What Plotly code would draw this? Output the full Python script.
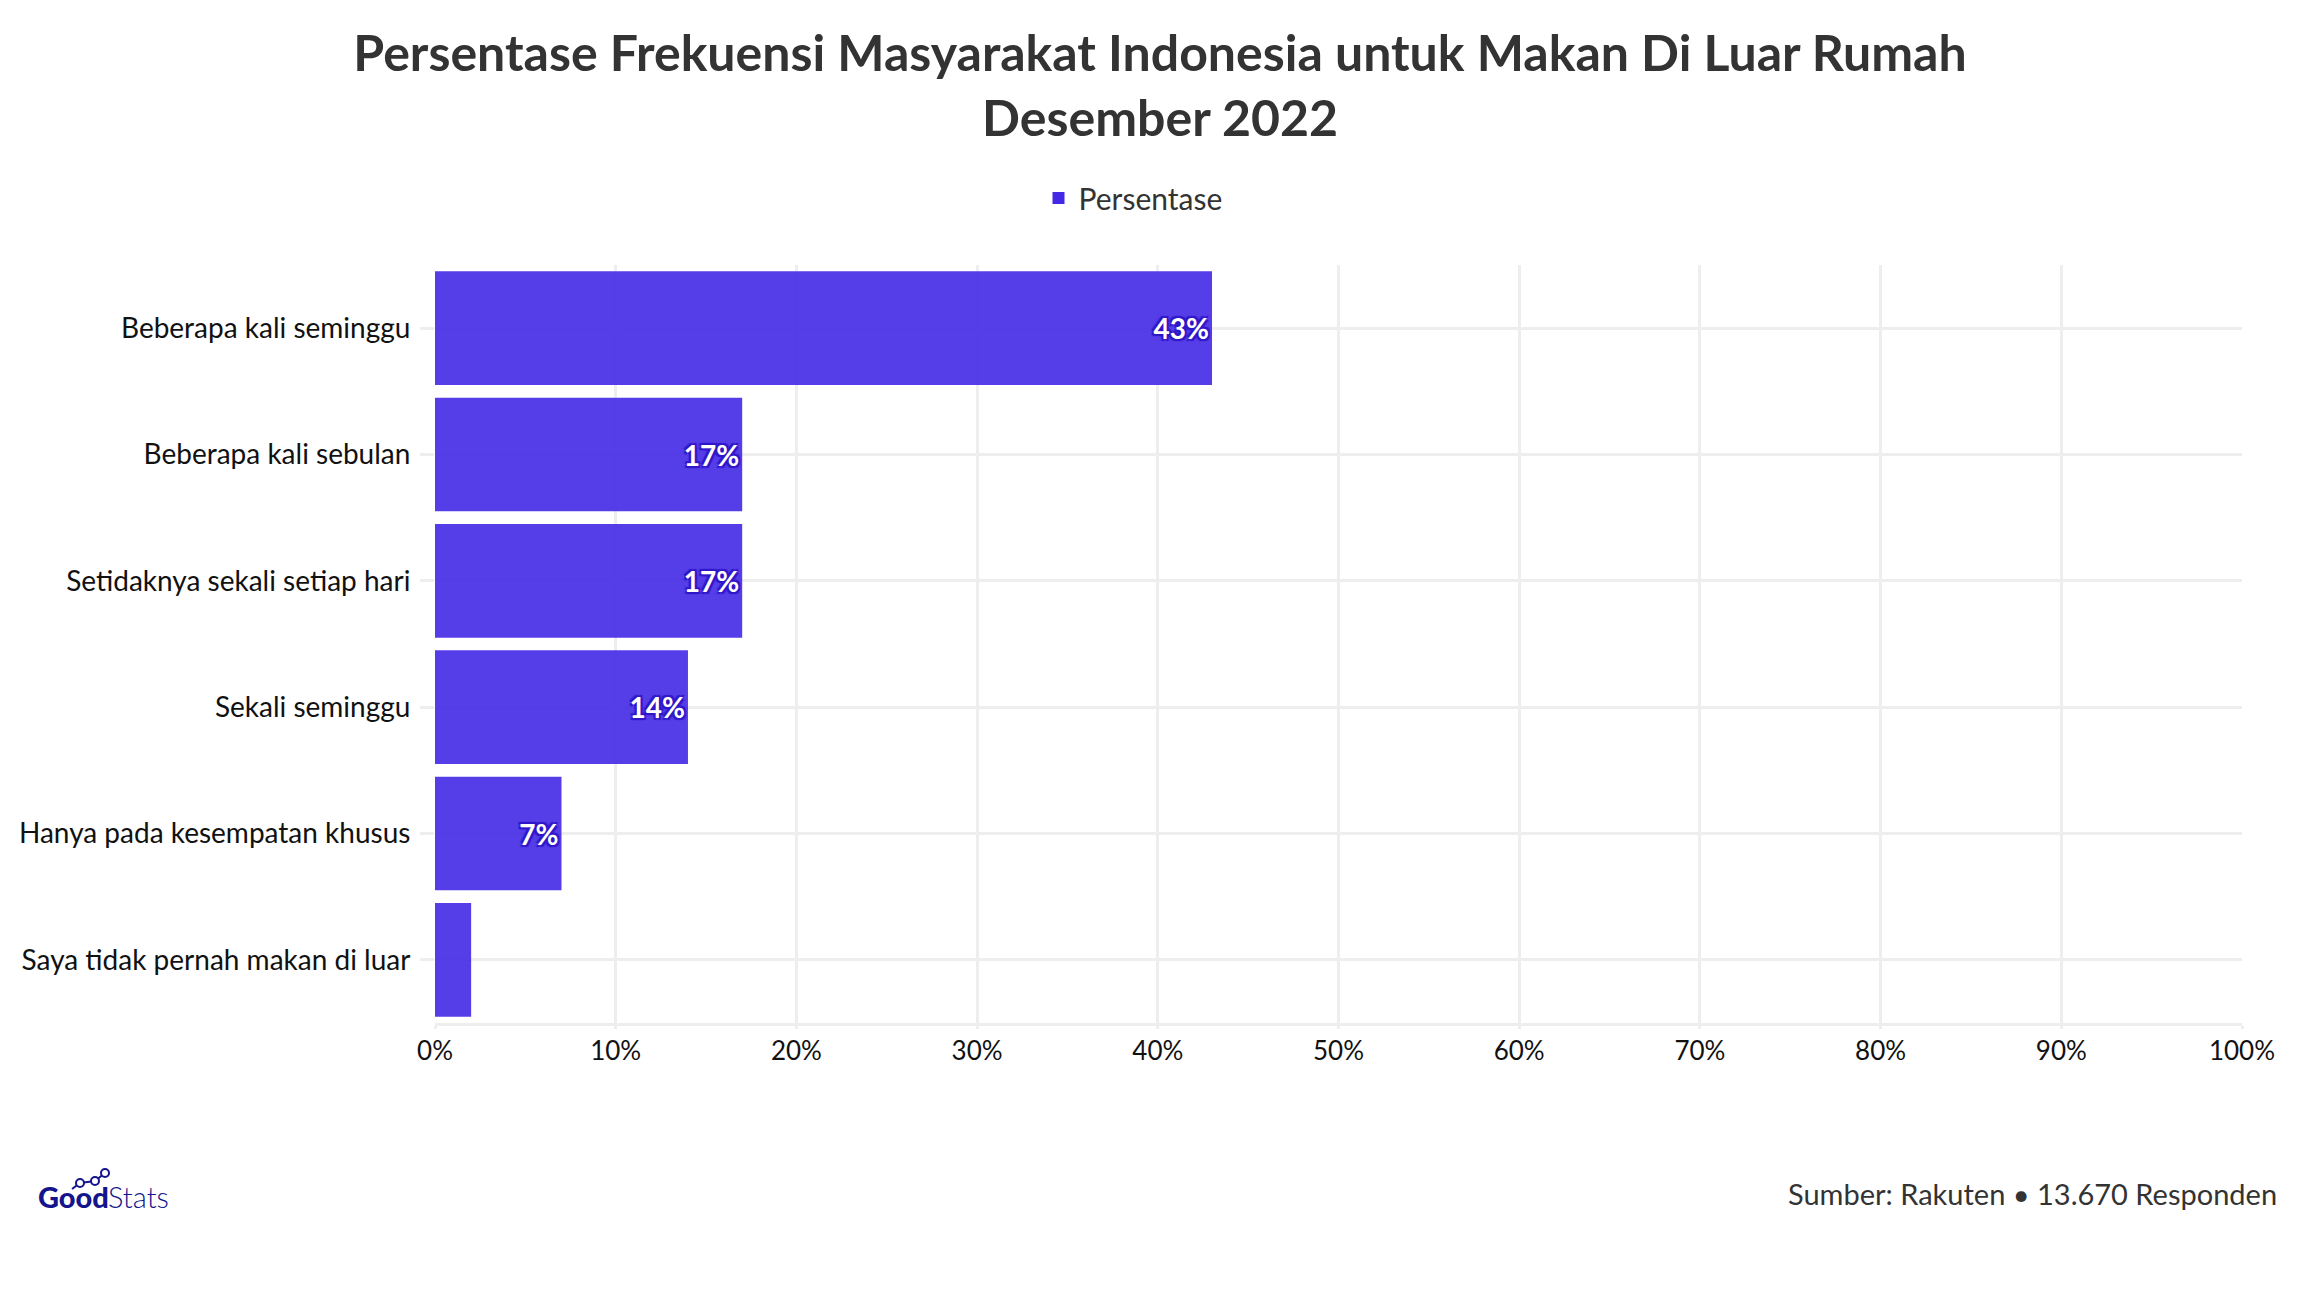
import plotly.graph_objects as go

# data (top to bottom)
categories = [
    "Beberapa kali seminggu",
    "Beberapa kali sebulan",
    "Setidaknya sekali setiap hari",
    "Sekali seminggu",
    "Hanya pada kesempatan khusus",
    "Saya tidak pernah makan di luar",
]
persentase = [43, 17, 17, 14, 7, 2]
tick_vals = [0, 10, 20, 30, 40, 50, 60, 70, 80, 90, 100]
tick_text = [f"{v}%" for v in tick_vals]

FONT = "Source Sans Pro, Lato, Noto Sans, sans-serif"
BAR_COLOR = "#4329E6"
GRID = "#EEEEEE"
LOGO = "#14148C"
OUTLINE = "#3016C8"

# plot area in page pixels (page is shown with an 8px body margin)
OFF = 8
L, T, R, B = 435, 265, 2242, 1023
W, H = 2304, 1300


def px(x):
    return (x - L) / (R - L)


def py(y):
    return (B - y) / (B - T)


# labels only where the bar is wide enough
labels = [f"{v}%" if v >= 5 else "" for v in persentase]

fig = go.Figure()
fig.add_trace(go.Bar(
    x=persentase,
    y=categories,
    orientation="h",
    name="Persentase",
    marker=dict(color=BAR_COLOR, opacity=0.9, line=dict(width=0)),
    text=labels,
    textposition="inside",
    insidetextanchor="end",
    constraintext="none",
    textfont=dict(family=FONT, size=28, color="white", weight="bold",
                  shadow=f"2px 2px 1px {OUTLINE}, -2px -2px 1px {OUTLINE}, "
                         f"2px -2px 1px {OUTLINE}, -2px 2px 1px {OUTLINE}"),
    cliponaxis=False,
))

fig.update_layout(
    width=W,
    height=H,
    paper_bgcolor="white",
    plot_bgcolor="white",
    margin=dict(l=L - OFF, r=W - R + OFF, t=T - OFF, b=H - B + OFF),
    bargap=0.1,
    font=dict(family=FONT, color="#222222"),
    title=dict(
        text="<b>Persentase Frekuensi Masyarakat Indonesia untuk Makan Di Luar Rumah<br>Desember 2022</b>",
        x=0.5, xanchor="center", xref="container",
        y=1 - 63 / H, yanchor="middle", yref="container",
        font=dict(family=FONT, size=50, color="#333333"),
    ),
    showlegend=True,
    legend=dict(
        orientation="h",
        x=1125 / W, xanchor="center", xref="container",
        y=1 - (198 - OFF) / H, yanchor="middle", yref="container",
        font=dict(family=FONT, size=30, color="#333333"),
    ),
    xaxis=dict(
        range=[0, 100],
        tickvals=tick_vals,
        ticktext=tick_text,
        showgrid=True, gridcolor=GRID, gridwidth=3,
        showline=True, linecolor=GRID, linewidth=3,
        ticks="outside", ticklen=3, tickcolor=GRID, tickwidth=3,
        zeroline=False,
        tickfont=dict(family=FONT, size=26, color="#111111"),
        fixedrange=True,
    ),
    yaxis=dict(
        autorange="reversed",
        showgrid=True, gridcolor=GRID, gridwidth=3,
        ticks="outside", ticklen=14, tickcolor=GRID, tickwidth=3,
        ticklabelstandoff=4,
        tickfont=dict(family=FONT, size=28, color="#111111"),
        fixedrange=True,
    ),
)

# footer: source
fig.add_annotation(
    text="Sumber: Rakuten • 13.670 Responden",
    xref="paper", yref="paper",
    x=px(2279), y=py(1193),
    xanchor="right", yanchor="middle", showarrow=False,
    font=dict(family=FONT, size=29, color="#333333"),
)

# footer: GoodStats logo
fig.add_annotation(
    text="Good", xref="paper", yref="paper",
    x=px(36), y=py(1196), xanchor="left", yanchor="middle", showarrow=False,
    font=dict(family="Lato, sans-serif", size=29, color=LOGO, weight=900),
)
fig.add_annotation(
    text="Stats", xref="paper", yref="paper",
    x=px(106), y=py(1196), xanchor="left", yanchor="middle", showarrow=False,
    font=dict(family="Lato, sans-serif", size=29, color=LOGO, weight=300),
)
logo_path = [(72, 1189), (80, 1183), (95, 1181), (105, 1173)]
for (x0, y0), (x1, y1) in zip(logo_path[:-1], logo_path[1:]):
    fig.add_shape(type="line", xref="paper", yref="paper",
                  x0=px(x0), y0=py(y0), x1=px(x1), y1=py(y1),
                  line=dict(color=LOGO, width=2))
for cx, cy in logo_path[1:]:
    fig.add_shape(type="circle", xref="paper", yref="paper",
                  x0=px(cx - 4), x1=px(cx + 4), y0=py(cy - 4), y1=py(cy + 4),
                  fillcolor="white", line=dict(color=LOGO, width=2))

fig.write_html("out.html")
